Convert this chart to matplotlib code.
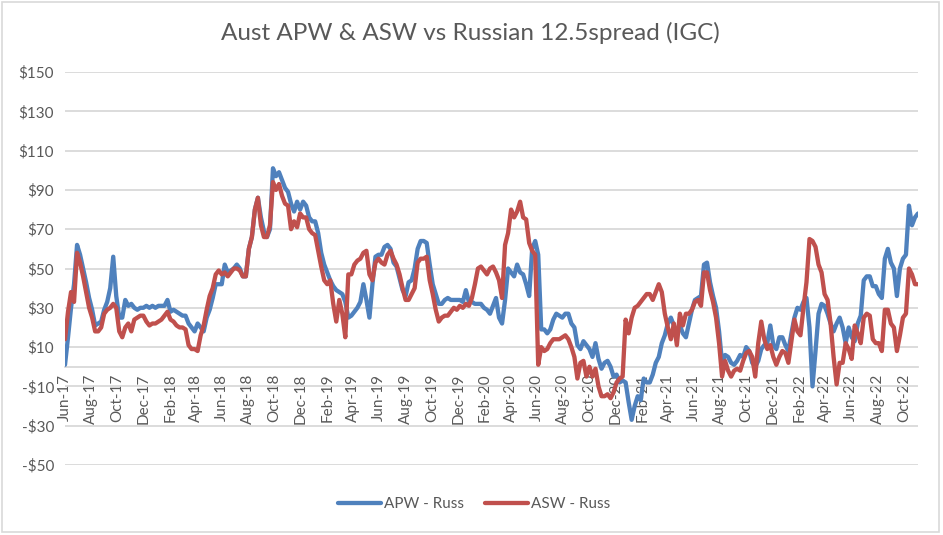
import pandas as pd
import matplotlib
matplotlib.use('Agg')
import matplotlib.pyplot as plt
import matplotlib.dates as mdates
from matplotlib.patches import Rectangle
from matplotlib.ticker import FuncFormatter

plt.rcParams['font.family'] = ['Lato', 'DejaVu Sans']

# weekly values, first week Jun-17
start_week = '2017-06-01'

apw_russ = [1, 15, 30, 42, 62, 57, 50, 43, 35, 29, 21, 22, 23, 29, 33, 40, 56, 36, 25, 25,
            34, 31, 32, 30, 29, 30, 30, 31, 30, 31, 30, 31, 31, 31, 34, 28, 29, 28, 27, 26,
            26, 22, 20, 18, 22, 20, 18, 25, 29, 35, 42, 42, 42, 52, 48, 49, 50, 52, 50, 46,
            46, 60, 66, 80, 86, 76, 69, 66, 70, 101, 97, 99, 95, 91, 89, 83, 79, 84, 80, 84,
            82, 76, 74, 74, 68, 58, 52, 48, 44, 41, 39, 38, 37, 33, 25, 26, 28, 30, 33, 42,
            34, 25, 42, 56, 57, 57, 61, 62, 60, 53, 51, 45, 39, 36, 43, 44, 50, 60, 64, 64,
            63, 52, 42, 37, 32, 32, 34, 35, 34, 34, 34, 34, 33, 39, 33, 33, 32, 32, 32, 30,
            29, 27, 31, 35, 25, 22, 34, 50, 48, 46, 52, 48, 47, 42, 36, 60, 64, 57, 19, 19,
            17, 19, 24, 27, 26, 25, 27, 27, 22, 20, 11, 9, 13, 11, 9, 5, 12, 4, -1, 2,
            3, 0, -5, -4, -8, -7, -8, -18, -27, -20, -15, -17, -6, -8, -8, -4, 2, 5, 12, 16,
            22, 25, 21, 16, 21, 17, 15, 22, 29, 34, 35, 36, 52, 53, 43, 36, 30, 18, 2, 6,
            5, 2, 1, 3, 6, 5, 10, 8, 2, 0, 3, 9, 11, 12, 21, 11, 9, 15, 15, 11,
            8, 17, 25, 30, 29, 33, 35, 20, -10, 8, 27, 32, 31, 27, 22, 18, 22, 25, 20, 12,
            20, 15, 13, 22, 26, 44, 46, 46, 41, 41, 37, 35, 55, 60, 53, 50, 36, 50, 55, 57,
            82, 72, 76, 78]

asw_russ = [14, 28, 38, 33, 58, 53, 46, 38, 30, 25, 18, 18, 20, 27, 29, 30, 32, 30, 18, 15,
            20, 22, 18, 24, 25, 26, 26, 23, 21, 22, 22, 23, 24, 26, 28, 24, 23, 21, 20, 20,
            19, 11, 9, 9, 8, 16, 21, 29, 36, 40, 47, 49, 47, 48, 46, 48, 50, 50, 49, 46,
            46, 60, 66, 80, 86, 72, 66, 66, 72, 94, 90, 93, 87, 83, 82, 70, 74, 71, 78, 76,
            76, 70, 68, 67, 59, 51, 44, 42, 44, 32, 23, 34, 27, 15, 47, 47, 52, 54, 55, 58,
            59, 47, 44, 53, 55, 53, 52, 57, 59, 55, 52, 47, 40, 34, 34, 37, 40, 53, 55, 55,
            56, 44, 37, 29, 23, 25, 26, 26, 28, 30, 29, 31, 30, 32, 31, 35, 42, 50, 51, 49,
            47, 50, 51, 48, 44, 35, 62, 68, 80, 76, 79, 84, 76, 75, 63, 59, 57, 1, 10, 8,
            9, 12, 14, 14, 14, 15, 16, 14, 10, 5, -6, 2, 3, -5, 0, -5, -1, -10, -15, -15,
            -14, -16, -13, -8, -6, -5, 24, 17, 25, 30, 31, 33, 35, 37, 37, 34, 38, 42, 38, 27,
            20, 14, 22, 11, 27, 21, 27, 27, 29, 33, 34, 31, 48, 48, 39, 33, 25, 12, -5, 3,
            -2, -5, -2, -1, -2, 3, 7, 8, 5, -5, 12, 23, 14, 9, 11, 5, 1, 5, 8, 7,
            2, 13, 24, 18, 16, 30, 43, 65, 64, 61, 52, 48, 37, 34, 22, 5, -9, 2, 2, 12,
            9, 4, 21, 17, 12, 25, 27, 26, 14, 12, 12, 8, 29, 29, 22, 20, 8, 16, 25, 27,
            50, 47, 42, 42]

dates = pd.date_range(start_week, periods=len(apw_russ), freq='7D')

fig = plt.figure(figsize=(9.43, 5.35), dpi=100)
ax = fig.add_axes([65/943, 70/535, 853/943, 393/535])

ax.plot(dates, apw_russ, color='#4F81BD', lw=3.1, label='APW - Russ', zorder=3,
        solid_joinstyle='round', solid_capstyle='round')
ax.plot(dates, asw_russ, color='#C0504D', lw=3.1, label='ASW - Russ', zorder=3,
        solid_joinstyle='round', solid_capstyle='round')

ax.set_ylim(-50, 150)
ax.set_yticks(range(-50, 151, 20))
ax.yaxis.set_major_formatter(FuncFormatter(lambda v, p: ('-$%d' % -v) if v < 0 else '$%d' % v))
ax.set_xlim(dates[0], dates[-1])
ax.xaxis.set_major_locator(mdates.MonthLocator(bymonth=[2, 4, 6, 8, 10, 12]))
ax.xaxis.set_major_formatter(mdates.DateFormatter('%b-%y'))

ax.grid(axis='y', color='#D9D9D9', lw=1.3)
ax.set_axisbelow(True)
for s in ['top', 'right', 'left']:
    ax.spines[s].set_visible(False)
ax.spines['bottom'].set_position(('data', 0))
ax.spines['bottom'].set_color('#D9D9D9')
ax.spines['bottom'].set_linewidth(1.3)
ax.tick_params(axis='both', length=0, colors='#595959', labelsize=11)
ax.tick_params(axis='x', pad=5)
ax.tick_params(axis='y', pad=8)
plt.setp(ax.get_xticklabels(), rotation=90)

fig.suptitle('Aust APW & ASW vs Russian 12.5spread (IGC)', x=470/943, y=1-33/535,
             va='center', fontsize=17.5, color='#595959')
fig.legend(loc='center', bbox_to_anchor=(474/943, 1-504/535), ncol=2, frameon=False,
           fontsize=11, labelcolor='#595959', handlelength=2.8, handletextpad=0.2,
           columnspacing=1.4)

fig.patches.append(Rectangle((1.5/943, 3/535), 937.5/943, 530/535, transform=fig.transFigure,
                             fill=False, edgecolor='#D9D9D9', lw=1.2))

fig.savefig('out.png', dpi=100)
